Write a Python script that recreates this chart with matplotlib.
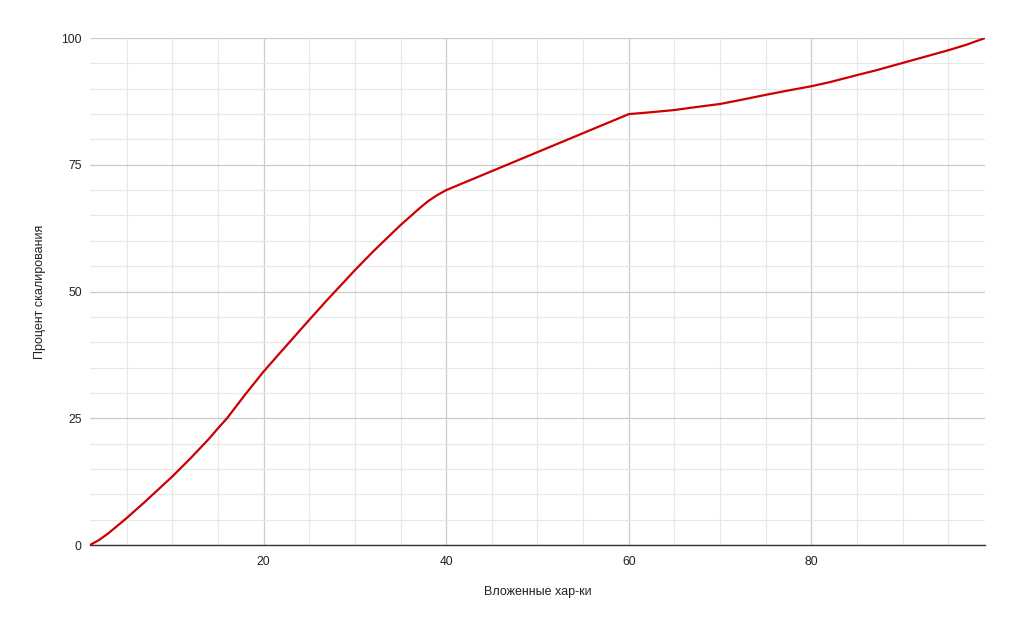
import numpy as np
import matplotlib.pyplot as plt
from matplotlib.ticker import MultipleLocator

plt.rcParams['font.family'] = ['Liberation Sans', 'DejaVu Sans']

# data
x_vals = [1, 2, 3, 5, 7, 10, 12, 14, 15, 16, 18, 20, 22, 25, 27, 30, 32, 35, 36, 37,
          38, 39, 40, 45, 50, 55, 60, 62, 65, 67, 70, 72, 75, 77, 80, 82, 85, 87,
          90, 92, 95, 97, 99]
y_vals = [0, 1.0, 2.3, 5.3, 8.5, 13.5, 17.1, 20.9, 23.0, 25.0, 29.7, 34.2, 38.3, 44.4,
          48.4, 54.2, 57.9, 63.1, 64.7, 66.3, 67.8, 69.0, 70.0, 73.75, 77.5, 81.25,
          85.0, 85.3, 85.8, 86.3, 87.0, 87.7, 88.8, 89.5, 90.5, 91.3, 92.7, 93.6,
          95.1, 96.1, 97.6, 98.7, 100]

x_major = [20, 40, 60, 80]
y_major = [0, 25, 50, 75, 100]

fig = plt.figure(figsize=(10.17, 6.29), dpi=100)
ax = fig.add_axes([0.0885, 0.1335, 0.88, 0.806])

ax.plot(x_vals, y_vals, color="#cc0000", lw=1.6, solid_joinstyle="round", zorder=3)

ax.set_xlim(1, 99)
ax.set_ylim(0, 100)
ax.set_xticks(x_major)
ax.set_yticks(y_major)
ax.xaxis.set_minor_locator(MultipleLocator(5))
ax.yaxis.set_minor_locator(MultipleLocator(5))
ax.grid(which="major", color="#cccccc", lw=0.9)
ax.grid(which="minor", color="#e8e8e8", lw=0.9)
ax.set_axisbelow(True)

for s in ["top", "right", "left"]:
    ax.spines[s].set_visible(False)
ax.spines["bottom"].set_color("#333333")
ax.spines["bottom"].set_linewidth(1.0)

ax.tick_params(which="both", length=0, labelsize=8.7, colors="#222222")
ax.tick_params(axis="x", pad=8)
ax.tick_params(axis="y", pad=6)

ax.set_xlabel("Вложенные хар-ки", fontsize=9, color="#222222", labelpad=13)
ax.set_ylabel("Процент скалирования", fontsize=9, color="#222222", labelpad=11)

fig.savefig("out.png", dpi=100)
